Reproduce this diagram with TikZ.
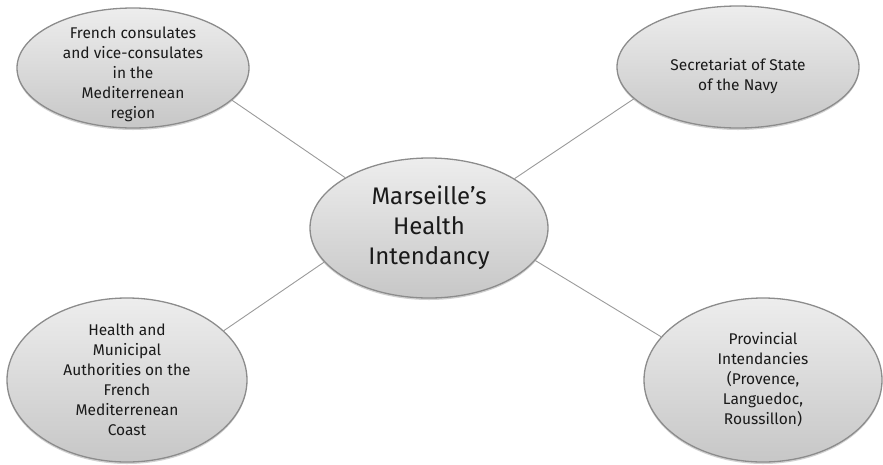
\documentclass[tikz,border=0pt]{standalone}
\usepackage{fontspec}
\setmainfont{Fira Sans}
\usetikzlibrary{shapes.geometric,shadows}
\definecolor{edgegray}{HTML}{8C8C8C}
\definecolor{linkgray}{HTML}{9A9A9A}
\definecolor{txt}{HTML}{1A1A1A}
\tikzset{
  bubble/.style={ellipse, draw=edgegray, line width=1.3pt, inner sep=0pt,
    top color=black!7, bottom color=black!22,
    drop shadow={shadow xshift=0pt, shadow yshift=-2pt, opacity=0.18, fill=black}},
  sidetext/.style={align=center, text=txt, font=\fontsize{15.5}{20}\selectfont},
  maintext/.style={align=center, text=txt, font=\fontsize{24}{30}\selectfont},
  link/.style={draw=linkgray, line width=0.9pt}
}
\begin{document}
\begin{tikzpicture}[x=1pt,y=-1pt]
\useasboundingbox (0,0) rectangle (883,464);
\node[bubble, minimum width=232pt, minimum height=120pt] (tl) at (133,68) {};
\node[bubble, minimum width=242pt, minimum height=122pt] (tr) at (738,67) {};
\node[bubble, minimum width=238pt, minimum height=140pt] (c) at (429,228) {};
\node[bubble, minimum width=240pt, minimum height=164pt] (bl) at (127,380) {};
\node[bubble, minimum width=238pt, minimum height=164pt] (br) at (763,380) {};
\node[sidetext, yshift=-6pt] (tltext) at (tl.center) {French consulates\\and vice-consulates\\in the\\Mediterrenean\\region};
\node[sidetext, yshift=-9pt] (trtext) at (tr.center) {Secretariat of State\\of the Navy};
\node[maintext] (ctext) at (c.center) {Marseille’s\\Health\\Intendancy};
\node[sidetext] (bltext) at (bl.center) {Health and\\Municipal\\Authorities on the\\French\\Mediterrenean\\Coast};
\node[sidetext] (brtext) at (br.center) {Provincial\\Intendancies\\(Provence,\\Languedoc,\\Roussillon)};
\draw[link] (tl.-18) -- (c.149);
\draw[link] (tr.197) -- (c.30);
\draw[link] (bl.27) -- (c.198);
\draw[link] (br.157) -- (c.-17);
\end{tikzpicture}
\end{document}
